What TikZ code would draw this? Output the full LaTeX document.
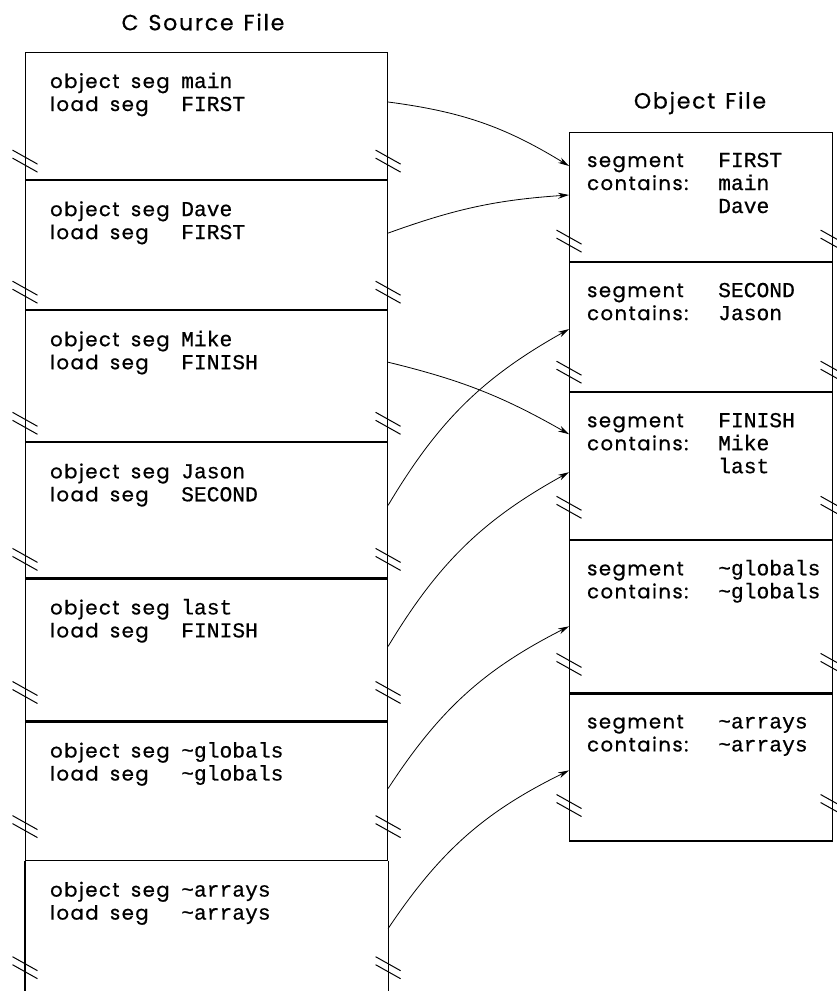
\documentclass[tikz,border=0pt]{standalone}
\usepackage{fontspec}
\usetikzlibrary{arrows.meta}
\newfontfamily\geofont[LetterSpace=8, WordSpace=1.7, FakeBold=0.8]{Poppins}
\newfontfamily\titlefont[LetterSpace=8, WordSpace=1.3, FakeBold=0.6]{Poppins}
\setmonofont[FakeBold=0.6]{Liberation Mono}
\newcommand{\segname}[1]{{\fontsize{21.3}{23}\selectfont\ttfamily #1}}
\newcommand{\seglabel}[1]{\makebox[131pt][l]{#1}}

\begin{document}
\begin{tikzpicture}[x=1pt, y=1pt,
    seg/.style={draw, line width=1.1pt, rectangle, inner sep=0pt, anchor=north west},
    segtext/.style={anchor=base west, inner sep=0pt, font=\geofont\fontsize{19.5}{23}\selectfont},
    filetitle/.style={inner sep=0pt, font=\titlefont\fontsize{22}{25}\selectfont},
    link/.style={line width=0.8pt, -{Stealth[length=11pt, width=6pt]}},
    brk/.pic={\draw[line width=1pt] (-12.5,11) -- (12.5,-3) (-12.5,3) -- (12.5,-11);}
  ]
  \useasboundingbox (0,0) rectangle (837,-991);

  % C source file
  \node[filetitle] (srctitle) at (203,-22) {C Source File};
  \node[seg, minimum width=362pt, minimum height=127pt] (l1) at (25,-52) {};
  \node[seg, minimum width=362pt, minimum height=129pt] (l2) at (l1.south west) {};
  \node[seg, minimum width=362pt, minimum height=131pt] (l3) at (l2.south west) {};
  \node[seg, minimum width=362pt, minimum height=135pt] (l4) at (l3.south west) {};
  \node[seg, minimum width=362pt, minimum height=142pt] (l5) at (l4.south west) {};
  \node[seg, minimum width=362pt, minimum height=138pt] (l6) at (l5.south west) {};
  \node[seg, draw=none, minimum width=362pt, minimum height=137pt] (l7) at (l6.south west) {};
  \draw[line width=1.1pt] (l7.north west) -- (l7.south west) (l7.north east) -- (l7.south east);

  \node[segtext] (l1txt) at ([shift={(25,-36)}]l1.north west) {\begin{tabular}[t]{@{}l@{}l@{}}
    \seglabel{object seg} & \segname{main}\\ \seglabel{load seg} & \segname{FIRST}\end{tabular}};
  \node[segtext] (l2txt) at ([shift={(25,-36)}]l2.north west) {\begin{tabular}[t]{@{}l@{}l@{}}
    \seglabel{object seg} & \segname{Dave}\\ \seglabel{load seg} & \segname{FIRST}\end{tabular}};
  \node[segtext] (l3txt) at ([shift={(25,-36)}]l3.north west) {\begin{tabular}[t]{@{}l@{}l@{}}
    \seglabel{object seg} & \segname{Mike}\\ \seglabel{load seg} & \segname{FINISH}\end{tabular}};
  \node[segtext] (l4txt) at ([shift={(25,-36)}]l4.north west) {\begin{tabular}[t]{@{}l@{}l@{}}
    \seglabel{object seg} & \segname{Jason}\\ \seglabel{load seg} & \segname{SECOND}\end{tabular}};
  \node[segtext] (l5txt) at ([shift={(25,-36)}]l5.north west) {\begin{tabular}[t]{@{}l@{}l@{}}
    \seglabel{object seg} & \segname{last}\\ \seglabel{load seg} & \segname{FINISH}\end{tabular}};
  \node[segtext] (l6txt) at ([shift={(25,-36)}]l6.north west) {\begin{tabular}[t]{@{}l@{}l@{}}
    \seglabel{object seg} & \segname{\textasciitilde globals}\\ \seglabel{load seg} & \segname{\textasciitilde globals}\end{tabular}};
  \node[segtext] (l7txt) at ([shift={(25,-36)}]l7.north west) {\begin{tabular}[t]{@{}l@{}l@{}}
    \seglabel{object seg} & \segname{\textasciitilde arrays}\\ \seglabel{load seg} & \segname{\textasciitilde arrays}\end{tabular}};

  % Object file
  \node[filetitle] (objtitle) at (700,-103) {Object File};
  \node[seg, minimum width=263pt, minimum height=129pt] (r1) at (569,-132) {};
  \node[seg, minimum width=263pt, minimum height=129pt] (r2) at (r1.south west) {};
  \node[seg, minimum width=263pt, minimum height=147pt] (r3) at (r2.south west) {};
  \node[seg, minimum width=263pt, minimum height=152pt] (r4) at (r3.south west) {};
  \node[seg, minimum width=263pt, minimum height=147pt] (r5) at (r4.south west) {};

  \node[segtext] (r1txt) at ([shift={(18,-35)}]r1.north west) {\begin{tabular}[t]{@{}l@{}l@{}}
    \seglabel{segment} & \segname{FIRST}\\ \seglabel{contains:} & \segname{main}\\ & \segname{Dave}\end{tabular}};
  \node[segtext] (r2txt) at ([shift={(18,-35)}]r2.north west) {\begin{tabular}[t]{@{}l@{}l@{}}
    \seglabel{segment} & \segname{SECOND}\\ \seglabel{contains:} & \segname{Jason}\end{tabular}};
  \node[segtext] (r3txt) at ([shift={(18,-35)}]r3.north west) {\begin{tabular}[t]{@{}l@{}l@{}}
    \seglabel{segment} & \segname{FINISH}\\ \seglabel{contains:} & \segname{Mike}\\ & \segname{last}\end{tabular}};
  \node[segtext] (r4txt) at ([shift={(18,-35)}]r4.north west) {\begin{tabular}[t]{@{}l@{}l@{}}
    \seglabel{segment} & \segname{\textasciitilde globals}\\ \seglabel{contains:} & \segname{\textasciitilde globals}\end{tabular}};
  \node[segtext] (r5txt) at ([shift={(18,-35)}]r5.north west) {\begin{tabular}[t]{@{}l@{}l@{}}
    \seglabel{segment} & \segname{\textasciitilde arrays}\\ \seglabel{contains:} & \segname{\textasciitilde arrays}\end{tabular}};

  % Break marks on both edges
  \foreach \s/\d in {l1/19, l2/18, l3/19, l4/19, l5/29, l6/34, l7/31, r1/21, r2/20, r3/33, r4/29, r5/36} {
    \pic at ([yshift=\d pt]\s.south west) {brk};
    \pic at ([yshift=\d pt]\s.south east) {brk};
  }

  % Links from source segments to load segments
  \draw[link] ([yshift=-50pt]l1.north east) to[bend left=12] ([yshift=-34pt]r1.north west);
  \draw[link] ([yshift=-53pt]l2.north east) to[bend left=8] ([yshift=-63pt]r1.north west);
  \draw[link] ([yshift=-52pt]l3.north east) to[bend left=8] ([yshift=-42pt]r3.north west);
  \draw[link] ([yshift=-63pt]l4.north east) to[bend left=15] ([yshift=-67pt]r2.north west);
  \draw[link] ([yshift=-68pt]l5.north east) to[bend left=15] ([yshift=-80pt]r3.north west);
  \draw[link] ([yshift=-67pt]l6.north east) to[bend left=15] ([yshift=-86pt]r4.north west);
  \draw[link] ([yshift=-68pt]l7.north east) to[bend left=15] ([yshift=-77pt]r5.north west);
\end{tikzpicture}
\end{document}
